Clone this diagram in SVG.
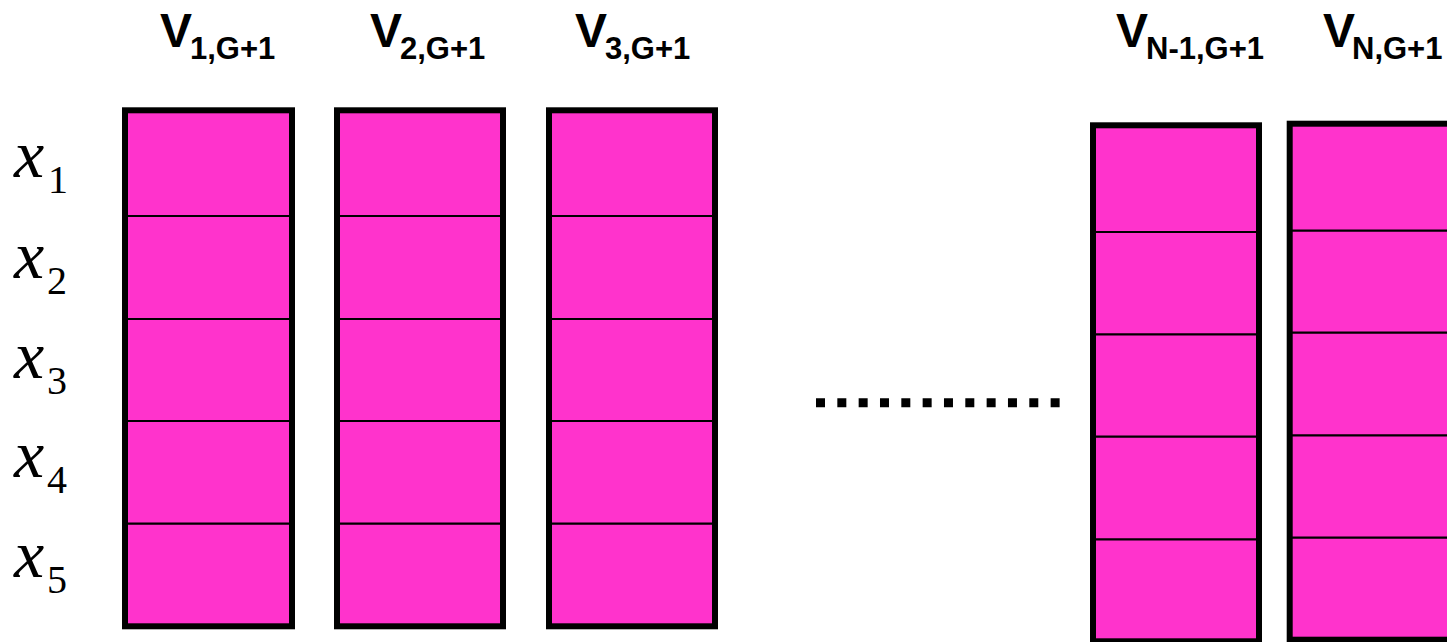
<svg xmlns="http://www.w3.org/2000/svg" width="1447" height="642" viewBox="0 0 1447 642">
  <style>
    .cell { fill: #FF33CC; stroke: none; }
    .frame { fill: none; stroke: #000; stroke-width: 6; }
    .div { stroke: #000; stroke-width: 2.2; }
    .hdr { font-family: "Liberation Sans", Arial, sans-serif; font-weight: bold; fill: #000; }
    .hv { font-size: 48px; }
    .hs { font-size: 31px; }
    .var { font-family: "Liberation Serif", "Times New Roman", serif; fill: #000; }
    .vx { font-size: 68px; font-style: italic; }
    .vs { font-size: 40px; }
  </style>

  <rect width="1447" height="642" fill="#fff"/>

  <!-- column headers -->
  <g id="headers">
    <text class="hdr" y="47"><tspan class="hv" x="160">V</tspan><tspan class="hs" x="190" y="58.5">1,G+1</tspan></text>
    <text class="hdr" y="47"><tspan class="hv" x="370">V</tspan><tspan class="hs" x="400" y="58.5">2,G+1</tspan></text>
    <text class="hdr" y="47"><tspan class="hv" x="575">V</tspan><tspan class="hs" x="605" y="58.5">3,G+1</tspan></text>
    <text class="hdr" y="47"><tspan class="hv" x="1116">V</tspan><tspan class="hs" x="1146" y="58.5">N-1,G+1</tspan></text>
    <text class="hdr" y="47"><tspan class="hv" x="1323">V</tspan><tspan class="hs" x="1352" y="58.5">N,G+1</tspan></text>
  </g>

  <!-- row labels -->
  <g id="rows">
    <text class="var" y="177"><tspan class="vx" x="14">x</tspan><tspan class="vs" x="48" y="193">1</tspan></text>
    <text class="var" y="278"><tspan class="vx" x="14">x</tspan><tspan class="vs" x="47" y="294">2</tspan></text>
    <text class="var" y="378"><tspan class="vx" x="14">x</tspan><tspan class="vs" x="47" y="394">3</tspan></text>
    <text class="var" y="477"><tspan class="vx" x="14">x</tspan><tspan class="vs" x="47" y="493">4</tspan></text>
    <text class="var" y="577"><tspan class="vx" x="14">x</tspan><tspan class="vs" x="47" y="593">5</tspan></text>
  </g>

  <!-- vector columns -->
  <g id="col1">
    <rect class="cell" x="125" y="110.3" width="167" height="516"/>
    <line class="div" x1="125" y1="216" x2="292" y2="216"/>
    <line class="div" x1="125" y1="319" x2="292" y2="319"/>
    <line class="div" x1="125" y1="421" x2="292" y2="421"/>
    <line class="div" x1="125" y1="523.7" x2="292" y2="523.7"/>
    <rect class="frame" x="125" y="110.3" width="167" height="516"/>
  </g>
  <g id="col2">
    <rect class="cell" x="337" y="110.3" width="166" height="516"/>
    <line class="div" x1="337" y1="216" x2="503" y2="216"/>
    <line class="div" x1="337" y1="319" x2="503" y2="319"/>
    <line class="div" x1="337" y1="421" x2="503" y2="421"/>
    <line class="div" x1="337" y1="523.7" x2="503" y2="523.7"/>
    <rect class="frame" x="337" y="110.3" width="166" height="516"/>
  </g>
  <g id="col3">
    <rect class="cell" x="549" y="110.3" width="166" height="516"/>
    <line class="div" x1="549" y1="216" x2="715" y2="216"/>
    <line class="div" x1="549" y1="319" x2="715" y2="319"/>
    <line class="div" x1="549" y1="421" x2="715" y2="421"/>
    <line class="div" x1="549" y1="523.7" x2="715" y2="523.7"/>
    <rect class="frame" x="549" y="110.3" width="166" height="516"/>
  </g>
  <g id="colN-1">
    <rect class="cell" x="1093" y="125.3" width="166" height="516"/>
    <line class="div" x1="1093" y1="232" x2="1259" y2="232"/>
    <line class="div" x1="1093" y1="334.3" x2="1259" y2="334.3"/>
    <line class="div" x1="1093" y1="436.7" x2="1259" y2="436.7"/>
    <line class="div" x1="1093" y1="539.3" x2="1259" y2="539.3"/>
    <rect class="frame" x="1093" y="125.3" width="166" height="516"/>
  </g>
  <g id="colN">
    <rect class="cell" x="1289.7" y="123.7" width="166" height="516"/>
    <line class="div" x1="1289.7" y1="230.7" x2="1455.7" y2="230.7"/>
    <line class="div" x1="1289.7" y1="332.7" x2="1455.7" y2="332.7"/>
    <line class="div" x1="1289.7" y1="435.3" x2="1455.7" y2="435.3"/>
    <line class="div" x1="1289.7" y1="537.7" x2="1455.7" y2="537.7"/>
    <rect class="frame" x="1289.7" y="123.7" width="166" height="516"/>
  </g>

  <!-- ellipsis between the columns -->
  <g id="connectors">
    <line x1="816" y1="402.8" x2="1060" y2="402.8" stroke="#000" stroke-width="9" stroke-dasharray="9 12.33"/>
  </g>
</svg>
